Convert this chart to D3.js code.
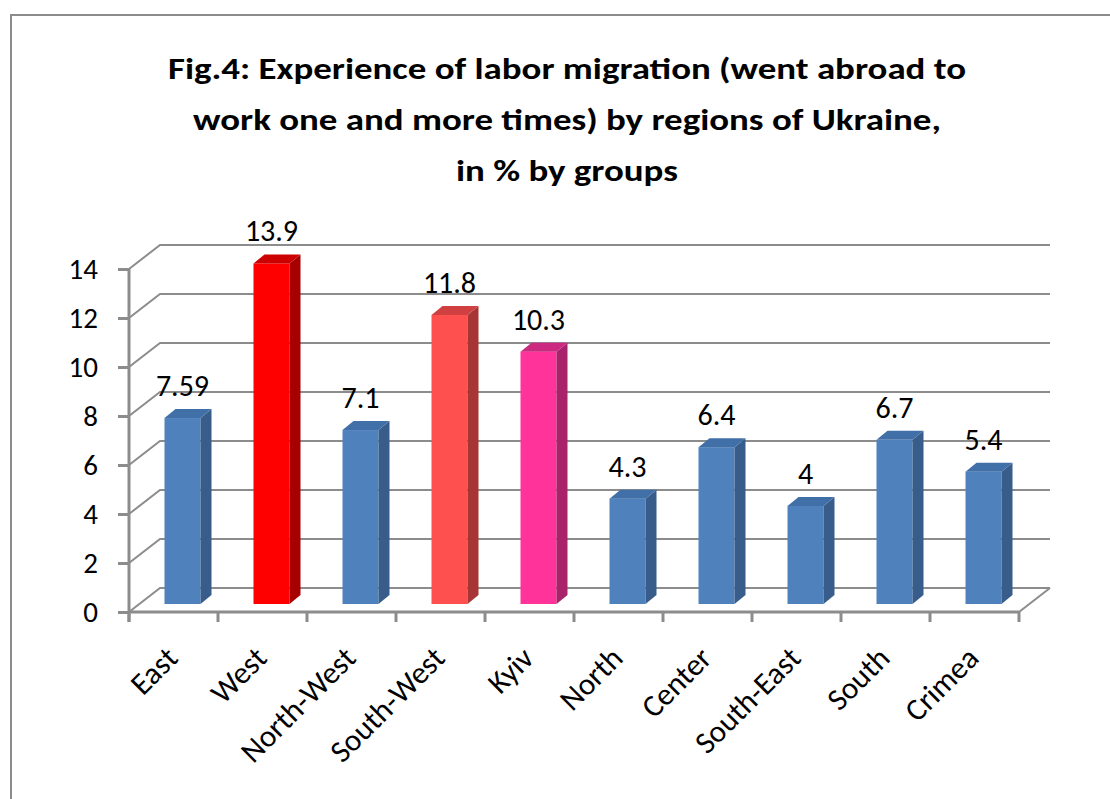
<!DOCTYPE html>
<html lang="en">
<head>
<meta charset="UTF-8">
<script src="https://d3js.org/d3.v7.min.js"></script>
<title>Fig.4 Labor migration by regions of Ukraine</title>
<style type="text/css">
	body { margin: 0; background: #fff; }
	svg text { font-family: Carlito, Lato, sans-serif; fill: #000; }
	.grid { fill: none; stroke: #8c8c8c; stroke-width: 2; }
	.axis-line { stroke: #8c8c8c; stroke-width: 3; }
</style>
</head>
<body>
<svg width="1110" height="799"></svg>
<script>
// data
var categories = ["East", "West", "North-West", "South-West", "Kyiv", "North", "Center", "South-East", "South", "Crimea"];
var values = [7.59, 13.9, 7.1, 11.8, 10.3, 4.3, 6.4, 4, 6.7, 5.4];
var yTicks = [0, 2, 4, 6, 8, 10, 12, 14];
var titleLines = [
	"Fig.4: Experience of labor migration (went abroad to",
	"work one and more times) by regions of Ukraine,",
	"in % by groups"
];

// colours (front, side, top)
var blue = { front: "#4f81bd", side: "#385d8a", top: "#4170a9" };
var special = {
	"West": { front: "#ff0000", side: "#a80000", top: "#cc0000" },
	"South-West": { front: "#ff5050", side: "#a83535", top: "#d04040" },
	"Kyiv": { front: "#ff3399", side: "#a8226c", top: "#cc2a80" }
};

var svg = d3.select("svg");

// frame (only top and left edges fall inside the picture)
svg.append("rect")
	.attr("x", 11).attr("y", 15)
	.attr("width", 1300).attr("height", 1000)
	.attr("fill", "none")
	.attr("stroke", "#8c8c8c")
	.attr("stroke-width", 2);

// title (Calibri is narrow and tall, so stretch a bit sideways)
svg.append("g")
	.attr("transform", "translate(567,0) scale(1.19,1)")
	.selectAll("text")
	.data(titleLines)
	.enter().append("text")
	.attr("x", 0)
	.attr("y", function(d, i) { return 79 + i * 51; })
	.attr("text-anchor", "middle")
	.attr("font-size", "31px")
	.attr("font-weight", "bold")
	.text(function(d) { return d; });

var xScale = d3.scaleBand().domain(categories).range([129, 1019]),
	yScale = d3.scaleLinear().domain([0, 14]).range([612, 269]);
var bw = xScale.bandwidth();

// depth of the 3d box
var depthX = 31, depthY = -24;
var backRight = 1050;

// back wall grid + side diagonals
svg.append("g").selectAll("path")
	.data(yTicks)
	.enter().append("path")
	.attr("class", "grid")
	.attr("d", function(t) {
		var y = yScale(t);
		return "M" + 129 + "," + y + "L" + (129 + depthX) + "," + (y + depthY) + "L" + backRight + "," + (y + depthY);
	});

// floor right edge
svg.append("line")
	.attr("class", "grid")
	.attr("x1", xScale.range()[1]).attr("y1", yScale(0))
	.attr("x2", backRight).attr("y2", yScale(0) + depthY);

// bars
var barW = 36, sideX = 11, sideY = -9, barDx = 9, barDy = -8;
function barCol(c) { return special[c] || blue; }
function fx(c) { return xScale(c) + bw / 2 + barDx - barW / 2; }
function ftop(v) { return yScale(v) + barDy; }
var base = yScale(0) + barDy;

var bars = svg.append("g").selectAll("g")
	.data(categories)
	.enter().append("g");

bars.append("rect")
	.attr("x", function(c) { return fx(c); })
	.attr("y", function(c, i) { return ftop(values[i]); })
	.attr("width", barW)
	.attr("height", function(c, i) { return base - ftop(values[i]); })
	.attr("fill", function(c) { return barCol(c).front; });

bars.append("polygon")
	.attr("points", function(c, i) {
		var x = fx(c) + barW, t = ftop(values[i]);
		return [[x, t], [x + sideX, t + sideY], [x + sideX, base + sideY], [x, base]].join(" ");
	})
	.attr("fill", function(c) { return barCol(c).side; });

bars.append("polygon")
	.attr("points", function(c, i) {
		var x = fx(c), t = ftop(values[i]);
		return [[x, t], [x + sideX, t + sideY], [x + barW + sideX, t + sideY], [x + barW, t]].join(" ");
	})
	.attr("fill", function(c) { return barCol(c).top; });

// value labels
svg.append("g").selectAll("text")
	.data(categories)
	.enter().append("text")
	.attr("x", function(c) { return fx(c) + barW / 2; })
	.attr("y", function(c, i) { return ftop(values[i]) - 22; })
	.attr("text-anchor", "middle")
	.attr("font-size", "30px")
	.text(function(c, i) { return values[i]; });

// x axis (front floor edge) with ticks at band edges
svg.append("line")
	.attr("class", "axis-line")
	.attr("x1", 129).attr("y1", yScale(0))
	.attr("x2", xScale.range()[1]).attr("y2", yScale(0));

var edges = categories.map(function(c) { return xScale(c); }).concat([xScale.range()[1]]);
svg.append("g").selectAll("line")
	.data(edges)
	.enter().append("line")
	.attr("class", "axis-line")
	.attr("x1", function(d) { return d; }).attr("x2", function(d) { return d; })
	.attr("y1", yScale(0)).attr("y2", yScale(0) + 10);

svg.append("g").selectAll("text")
	.data(categories)
	.enter().append("text")
	.attr("text-anchor", "end")
	.attr("font-size", "31px")
	.attr("transform", function(c) {
		return "translate(" + (xScale(c) + bw / 2 + 6) + ",660) rotate(-45)";
	})
	.text(function(c) { return c; });

// y axis
var yAxis = svg.append("g")
	.attr("transform", "translate(129,0)")
	.call(d3.axisLeft(yScale).tickValues(yTicks).tickSize(11).tickPadding(20));
yAxis.select(".domain").remove();
yAxis.selectAll(".tick line").attr("stroke", "#8c8c8c").attr("stroke-width", 3);
yAxis.selectAll(".tick text")
	.attr("font-size", "29px")
	.attr("font-family", "Carlito, Lato, sans-serif")
	.attr("fill", "#000");

svg.append("line")
	.attr("class", "axis-line")
	.attr("x1", 129).attr("x2", 129)
	.attr("y1", yScale(14)).attr("y2", yScale(0) + 10);
</script>
</body>
</html>
